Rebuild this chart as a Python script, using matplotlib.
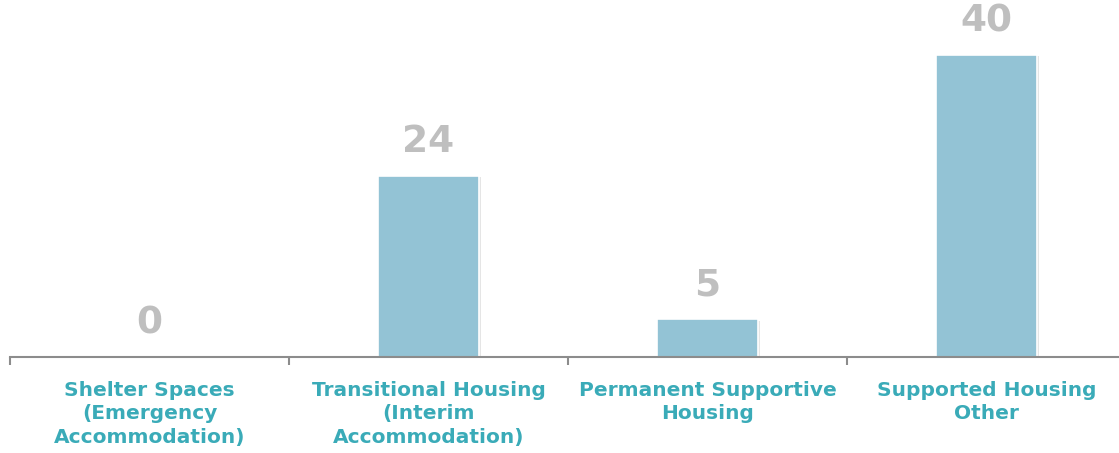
import matplotlib
matplotlib.use("Agg")
import matplotlib.pyplot as plt
import matplotlib.patheffects as pe

categories = ["Shelter Spaces\n(Emergency\nAccommodation)",
              "Transitional Housing\n(Interim\nAccommodation)",
              "Permanent Supportive\nHousing",
              "Supported Housing\nOther"]
values = [0, 24, 5, 40]

fig = plt.figure(figsize=(11.19, 4.53), dpi=100)
ax = fig.add_axes([10/1119, 96/453, 1116/1119, 357/453])
x = list(range(len(values)))
bars = ax.bar(x, values, width=0.36, color="#93C3D5", edgecolor="white", linewidth=1.2,
              path_effects=[pe.SimplePatchShadow(offset=(1.5, -1), shadow_rgbFace="#000000", alpha=0.10), pe.Normal()])
ax.set_xlim(-0.5, 3.5)
ax.set_ylim(0, 357/7.55)
for xi, v in zip(x, values):
    ax.annotate(str(v), (xi, v), xytext=(0, 17), textcoords="offset points",
                ha="center", va="baseline", fontsize=27, fontweight="bold", color="#BFBFBF")
for s in ["top", "right", "left"]:
    ax.spines[s].set_visible(False)
ax.spines["bottom"].set_color("#8C8C8C")
ax.spines["bottom"].set_linewidth(1.5)
ax.set_yticks([])
ax.set_xticks([-0.5, 0.5, 1.5, 2.5, 3.5])
ax.set_xticklabels([])
ax.tick_params(axis="x", length=6, width=1.5, color="#8C8C8C", direction="out")
for xi, c in zip(x, categories):
    ax.annotate(c, (xi, 0), xytext=(0, -17), textcoords="offset points",
                ha="center", va="top", fontsize=14.5, fontweight="bold",
                color="#3AABB8", linespacing=1.3)
fig.savefig("out.png", dpi=100)
